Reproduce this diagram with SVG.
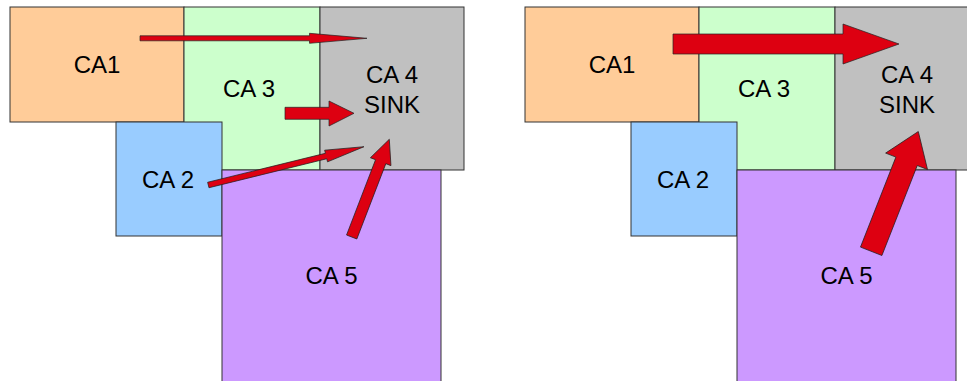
<svg xmlns="http://www.w3.org/2000/svg" width="967" height="381" viewBox="0 0 967 381">
<style>
.box{stroke:#333;stroke-width:1}
.lbl{font-family:"Liberation Sans",Arial,sans-serif;font-size:24px;fill:#000;text-anchor:middle}
.arr{fill:#DD0011;stroke:#222;stroke-width:0.7;stroke-linejoin:miter}
</style>
<rect width="967" height="381" fill="#fff"/>
<g id="left">
<g id="ca1-l"><rect class="box" x="10" y="7" width="174" height="115" fill="#FFCC99"/><text class="lbl" x="97" y="73">CA1</text></g>
<g id="ca3-l"><rect class="box" x="184" y="7" width="136" height="163" fill="#CCFFCC"/><text class="lbl" x="249" y="97">CA 3</text></g>
<g id="ca4-l"><rect class="box" x="320" y="7" width="144" height="163" fill="#C0C0C0"/><text class="lbl" x="392" y="83">CA 4</text><text class="lbl" x="392" y="113">SINK</text></g>
<g id="ca2-l"><rect class="box" x="116" y="122" width="106" height="114" fill="#99CCFF"/><text class="lbl" x="168" y="188">CA 2</text></g>
<g id="ca5-l"><rect class="box" x="222" y="170" width="219" height="220" fill="#CC99FF"/><text class="lbl" x="331.5" y="284">CA 5</text></g>
</g>
<g id="right">
<g id="ca1-r"><rect class="box" x="525" y="7" width="174" height="115" fill="#FFCC99"/><text class="lbl" x="612" y="73">CA1</text></g>
<g id="ca3-r"><rect class="box" x="699" y="7" width="136" height="163" fill="#CCFFCC"/><text class="lbl" x="764" y="97">CA 3</text></g>
<g id="ca4-r"><rect class="box" x="835" y="7" width="144" height="163" fill="#C0C0C0"/><text class="lbl" x="907" y="83">CA 4</text><text class="lbl" x="907" y="113">SINK</text></g>
<g id="ca2-r"><rect class="box" x="631" y="122" width="106" height="114" fill="#99CCFF"/><text class="lbl" x="683" y="188">CA 2</text></g>
<g id="ca5-r"><rect class="box" x="737" y="170" width="219" height="220" fill="#CC99FF"/><text class="lbl" x="846.5" y="284">CA 5</text></g>
</g>
<g id="connectors">
<polygon class="arr" points="140,35.8 309.5,35.8 309.5,33.3 367,38.3 309.5,43.3 309.5,40.8 140,40.8"/>
<polygon class="arr" points="285,107.3 329,107.3 329,101 354,113.3 329,126 329,119.3 285,119.3"/>
<polygon class="arr" transform="translate(208.3,185) rotate(-13.82)" points="0,-2.8 121.3,-2.8 121.3,-6 160.3,0 121.3,6 121.3,2.8 0,2.8"/>
<polygon class="arr" transform="translate(351.7,237) rotate(-68.95)" points="0,-5.5 80.7,-5.5 80.7,-11 104.7,0 80.7,11 80.7,5.5 0,5.5"/>
<polygon class="arr" points="673,34 843,34 843,24 899,44 843,64 843,54 673,54"/>
<polygon class="arr" transform="translate(871.2,251.3) rotate(-68.54)" points="0,-11.5 96.7,-11.5 96.7,-22.5 128.7,0 96.7,22.5 96.7,11.5 0,11.5"/>
</g>
</svg>
